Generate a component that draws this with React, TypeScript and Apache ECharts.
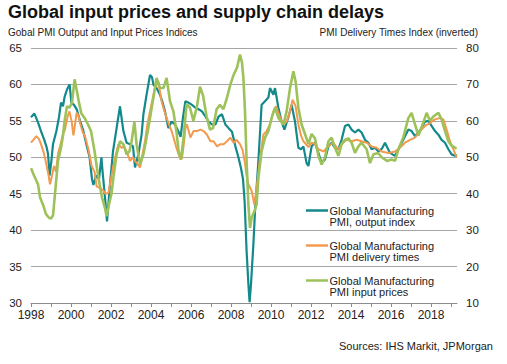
import React, { useEffect, useRef } from "react";
import * as echarts from "echarts";

// Global Manufacturing PMI, output index (left axis) [year, value]
const outputIndex: [number, number][] = [
  [1998.0, 55.5], [1998.17, 56.0], [1998.35, 54.8], [1998.5, 53.6], [1998.65, 52.5], [1998.77, 51.5],
  [1998.85, 50.5], [1998.93, 47.5], [1999.02, 49.5], [1999.1, 51.8], [1999.27, 53.6], [1999.4, 55.5],
  [1999.5, 57.5], [1999.6, 57.0], [1999.68, 58.3], [1999.8, 59.3], [1999.93, 60.0], [2000.02, 57.5],
  [2000.15, 57.2], [2000.3, 56.5], [2000.45, 55.0], [2000.6, 53.8], [2000.75, 52.0], [2000.93, 50.0],
  [2001.05, 47.0], [2001.12, 46.2], [2001.25, 47.5], [2001.4, 47.0], [2001.52, 50.0], [2001.58, 48.0],
  [2001.7, 44.5], [2001.8, 41.2], [2001.95, 46.3], [2002.1, 50.8], [2002.28, 54.0], [2002.45, 57.0],
  [2002.62, 53.6], [2002.78, 52.0], [2002.95, 51.8], [2003.1, 51.5], [2003.2, 48.6], [2003.37, 50.4],
  [2003.53, 53.1], [2003.62, 55.9], [2003.78, 58.6], [2003.95, 61.3], [2004.05, 61.0], [2004.12, 60.0],
  [2004.28, 59.5], [2004.45, 58.6], [2004.58, 57.5], [2004.7, 56.3], [2004.87, 54.0], [2005.03, 54.9],
  [2005.2, 54.5], [2005.38, 53.5], [2005.48, 52.8], [2005.6, 55.5], [2005.72, 57.7], [2005.88, 57.5],
  [2006.05, 57.2], [2006.22, 56.8], [2006.38, 56.6], [2006.55, 56.3], [2006.72, 55.6], [2006.88, 54.9],
  [2007.05, 54.5], [2007.22, 54.5], [2007.38, 55.6], [2007.55, 55.9], [2007.72, 54.5], [2007.88, 54.0],
  [2008.05, 53.5], [2008.22, 51.5], [2008.38, 49.9], [2008.5, 48.5], [2008.6, 47.0], [2008.68, 44.0],
  [2008.78, 37.1], [2008.87, 32.6], [2008.93, 30.1], [2009.0, 32.6], [2009.12, 38.1], [2009.2, 42.6],
  [2009.37, 49.5], [2009.53, 57.2], [2009.7, 57.7], [2009.87, 58.2], [2009.95, 59.5], [2010.12, 58.6],
  [2010.2, 59.5], [2010.37, 56.8], [2010.53, 54.9], [2010.67, 53.8], [2010.87, 55.5], [2011.03, 57.2],
  [2011.2, 54.9], [2011.37, 51.3], [2011.5, 51.1], [2011.62, 51.5], [2011.78, 49.2], [2011.87, 48.8],
  [2012.03, 51.5], [2012.2, 52.0], [2012.37, 50.6], [2012.53, 49.2], [2012.7, 49.7], [2012.87, 51.5],
  [2013.03, 52.0], [2013.2, 51.3], [2013.37, 51.1], [2013.53, 52.4], [2013.7, 54.3], [2013.87, 54.5],
  [2014.03, 53.8], [2014.2, 53.4], [2014.37, 53.8], [2014.53, 53.4], [2014.7, 52.4], [2014.87, 52.0],
  [2015.03, 51.1], [2015.2, 51.3], [2015.37, 50.8], [2015.55, 51.2], [2015.7, 52.0], [2015.95, 50.6],
  [2016.2, 50.2], [2016.45, 51.5], [2016.7, 52.9], [2016.87, 53.8], [2017.03, 53.6], [2017.2, 52.9],
  [2017.37, 53.4], [2017.53, 54.0], [2017.7, 54.9], [2017.87, 55.0], [2018.03, 54.3], [2018.2, 53.6],
  [2018.37, 53.1], [2018.53, 52.4], [2018.7, 52.0], [2018.87, 51.1], [2019.03, 50.4], [2019.2, 50.2],
  [2019.3, 50.3],
];

// Global Manufacturing PMI delivery times (inverted), left axis [year, value]
const deliveryTimes: [number, number][] = [
  [1998.0, 52.0], [1998.15, 52.5], [1998.27, 52.9], [1998.4, 52.5], [1998.5, 51.8], [1998.65, 50.5],
  [1998.77, 49.0], [1998.88, 47.5], [1998.95, 46.3], [1999.05, 47.5], [1999.15, 48.8], [1999.25, 48.0],
  [1999.35, 50.5], [1999.45, 51.5], [1999.58, 53.0], [1999.7, 53.8], [1999.82, 55.5], [1999.92, 56.3],
  [2000.03, 55.0], [2000.12, 53.0], [2000.2, 54.5], [2000.28, 56.1], [2000.37, 55.8], [2000.45, 54.7],
  [2000.58, 53.5], [2000.7, 52.9], [2000.87, 51.1], [2001.03, 48.8], [2001.18, 48.0], [2001.28, 46.0],
  [2001.43, 45.8], [2001.6, 45.5], [2001.72, 45.0], [2001.87, 45.1], [2001.95, 46.3], [2002.1, 48.6],
  [2002.25, 50.5], [2002.37, 51.8], [2002.53, 51.3], [2002.65, 51.5], [2002.78, 50.8], [2002.95, 49.5],
  [2003.1, 50.0], [2003.2, 49.5], [2003.35, 49.0], [2003.45, 48.6], [2003.58, 50.5], [2003.7, 52.2],
  [2003.82, 54.5], [2003.95, 56.3], [2004.08, 58.0], [2004.2, 59.5], [2004.37, 60.4], [2004.45, 59.0],
  [2004.53, 57.7], [2004.65, 56.5], [2004.78, 55.4], [2004.9, 54.5], [2005.03, 53.6], [2005.15, 52.5],
  [2005.25, 51.5], [2005.38, 50.4], [2005.48, 49.7], [2005.55, 49.9], [2005.65, 52.0], [2005.72, 54.0],
  [2005.8, 54.5], [2005.97, 52.7], [2006.13, 53.6], [2006.3, 53.6], [2006.47, 53.8], [2006.63, 53.6],
  [2006.8, 53.1], [2006.97, 52.2], [2007.13, 52.2], [2007.3, 51.5], [2007.47, 51.8], [2007.63, 51.8],
  [2007.8, 52.2], [2007.97, 52.7], [2008.13, 52.0], [2008.28, 52.4], [2008.45, 51.8], [2008.58, 51.0],
  [2008.68, 49.5], [2008.78, 47.5], [2008.87, 46.3], [2009.03, 45.4], [2009.17, 43.5], [2009.28, 45.8],
  [2009.45, 49.9], [2009.62, 53.1], [2009.78, 53.6], [2009.95, 54.5], [2010.12, 56.3], [2010.25, 57.0],
  [2010.45, 55.5], [2010.62, 54.5], [2010.78, 54.9], [2010.95, 56.3], [2011.08, 57.9], [2011.23, 57.0],
  [2011.37, 54.5], [2011.5, 53.0], [2011.62, 52.2], [2011.87, 51.4], [2012.03, 52.0], [2012.2, 51.8],
  [2012.37, 51.1], [2012.62, 50.8], [2012.87, 51.5], [2013.1, 52.0], [2013.37, 51.1], [2013.53, 51.8],
  [2013.78, 52.4], [2014.03, 52.2], [2014.28, 52.4], [2014.53, 52.2], [2014.78, 52.0], [2015.03, 51.5],
  [2015.28, 51.3], [2015.53, 50.8], [2015.87, 50.6], [2016.2, 50.8], [2016.45, 51.3], [2016.7, 52.0],
  [2016.95, 52.4], [2017.2, 52.7], [2017.45, 53.6], [2017.7, 54.3], [2017.95, 54.7], [2018.2, 55.2],
  [2018.45, 55.4], [2018.62, 55.2], [2018.78, 53.8], [2018.95, 52.2], [2019.12, 51.1], [2019.28, 50.0],
];

// Global Manufacturing PMI input prices, right axis [year, value]
const inputPrices: [number, number][] = [
  [1998.0, 47.0], [1998.15, 45.0], [1998.35, 42.6], [1998.45, 39.0], [1998.6, 37.0], [1998.75, 34.4],
  [1998.9, 33.4], [1999.0, 33.2], [1999.1, 34.0], [1999.2, 40.0], [1999.35, 49.0], [1999.5, 52.6],
  [1999.6, 56.0], [1999.68, 60.0], [1999.8, 64.0], [1999.92, 63.6], [2000.05, 65.0], [2000.18, 71.4],
  [2000.3, 68.0], [2000.4, 65.0], [2000.52, 62.0], [2000.68, 60.8], [2000.85, 59.0], [2001.0, 57.2],
  [2001.18, 51.6], [2001.3, 47.0], [2001.43, 42.6], [2001.55, 39.0], [2001.7, 36.0], [2001.78, 33.8],
  [2001.9, 37.0], [2002.03, 40.2], [2002.12, 44.4], [2002.28, 50.8], [2002.45, 54.4], [2002.62, 53.6],
  [2002.78, 50.8], [2002.92, 51.6], [2003.03, 54.4], [2003.17, 59.8], [2003.28, 53.6], [2003.45, 48.0],
  [2003.62, 50.8], [2003.78, 55.4], [2003.95, 60.8], [2004.12, 66.4], [2004.28, 71.8], [2004.45, 69.0],
  [2004.62, 69.0], [2004.78, 71.8], [2004.95, 65.4], [2005.12, 62.6], [2005.28, 56.8], [2005.38, 51.6],
  [2005.5, 49.4], [2005.62, 55.0], [2005.78, 64.6], [2005.95, 63.6], [2006.12, 60.0], [2006.3, 64.0],
  [2006.45, 69.4], [2006.6, 67.0], [2006.78, 61.2], [2006.95, 57.6], [2007.1, 58.0], [2007.28, 63.2],
  [2007.45, 64.4], [2007.62, 63.2], [2007.78, 66.0], [2007.97, 70.0], [2008.13, 72.6], [2008.3, 74.6],
  [2008.45, 78.2], [2008.55, 76.0], [2008.62, 71.8], [2008.7, 62.6], [2008.78, 49.0], [2008.87, 37.0],
  [2008.95, 30.6], [2009.03, 33.4], [2009.17, 35.2], [2009.28, 37.0], [2009.37, 44.4], [2009.53, 51.6],
  [2009.7, 55.4], [2009.87, 57.2], [2010.03, 60.8], [2010.2, 63.6], [2010.37, 60.8], [2010.62, 59.0],
  [2010.78, 62.6], [2010.95, 69.0], [2011.12, 73.6], [2011.23, 70.8], [2011.37, 63.6], [2011.53, 59.0],
  [2011.7, 56.4], [2011.87, 53.6], [2012.03, 56.4], [2012.2, 55.2], [2012.37, 50.4], [2012.53, 48.0],
  [2012.7, 50.0], [2012.87, 54.4], [2013.03, 55.4], [2013.2, 52.6], [2013.37, 50.4], [2013.53, 53.6],
  [2013.7, 54.8], [2013.87, 55.2], [2014.03, 54.0], [2014.2, 51.2], [2014.37, 53.0], [2014.53, 54.0],
  [2014.78, 52.2], [2014.95, 48.4], [2015.12, 50.8], [2015.37, 51.2], [2015.53, 50.0], [2015.8, 49.0],
  [2016.03, 49.4], [2016.2, 49.0], [2016.37, 52.2], [2016.62, 55.6], [2016.87, 60.8], [2017.03, 62.2],
  [2017.2, 59.0], [2017.37, 56.0], [2017.62, 59.6], [2017.78, 62.2], [2017.95, 60.0], [2018.12, 61.2],
  [2018.37, 62.2], [2018.53, 60.4], [2018.7, 57.2], [2018.87, 54.4], [2019.03, 53.2], [2019.28, 52.4],
];

const yearTicks = [
  1998, 1999, 2000, 2001, 2002, 2003, 2004, 2005, 2006, 2007, 2008,
  2009, 2010, 2011, 2012, 2013, 2014, 2015, 2016, 2017, 2018, 2019,
];
const yearLabels = [1998, 2000, 2002, 2004, 2006, 2008, 2010, 2012, 2014, 2016, 2018];

const seriesNames = [
  ["Global Manufacturing", "PMI, output index"],
  ["Global Manufacturing", "PMI delivery times"],
  ["Global Manufacturing", "PMI input prices"],
];
const seriesColors = ["#13898b", "#f39a4f", "#9dc25a"];
const seriesWidths = [2.2, 2, 2.6];

const titleText = "Global input prices and supply chain delays";
const leftAxisTitle = "Gobal PMI Output and Input Prices Indices";
const rightAxisTitle = "PMI Delivery Times Index (inverted)";
const sourceText = "Sources: IHS Markit, JPMorgan";

const FONT = "'Liberation Sans', Arial, Helvetica, sans-serif";

export default function App() {
  const ref = useRef<HTMLDivElement>(null);

  useEffect(() => {
    if (!ref.current) return;
    const chart = echarts.init(ref.current, undefined, { renderer: "svg" });

    const legendGraphics: any[] = [];
    const legendY = [210.5, 245.5, 280.5];
    seriesNames.forEach((lines, i) => {
      legendGraphics.push({
        type: "line",
        shape: { x1: 306, y1: legendY[i], x2: 328, y2: legendY[i] },
        style: { stroke: seriesColors[i], lineWidth: 2.5 },
      });
      legendGraphics.push({
        type: "text",
        x: 329.5,
        y: legendY[i],
        style: {
          text: lines[0],
          font: `11px ${FONT}`,
          fill: "#222",
          verticalAlign: "middle",
          align: "left",
        },
      });
      legendGraphics.push({
        type: "text",
        x: 329.5,
        y: legendY[i] + 11.5,
        style: {
          text: lines[1],
          font: `11px ${FONT}`,
          fill: "#222",
          verticalAlign: "middle",
          align: "left",
        },
      });
    });

    const seriesData = [outputIndex, deliveryTimes, inputPrices];
    const axisIndex = [0, 0, 1];

    const option: any = {
      animation: false,
      backgroundColor: "#ffffff",
      grid: { left: 31, right: 50, top: 48, bottom: 61, containLabel: false },
      xAxis: {
        type: "value",
        min: 1998,
        max: 2019.3,
        interval: 1,
        splitLine: { show: false },
        axisLine: { show: true, lineStyle: { color: "#8c8c8c", width: 1 } },
        axisTick: {
          show: true,
          inside: false,
          length: 4,
          customValues: yearTicks,
          lineStyle: { color: "#8c8c8c" },
        },
        axisLabel: {
          customValues: yearLabels,
          formatter: (v: number) => String(Math.round(v)),
          color: "#222",
          fontFamily: FONT,
          fontSize: 12,
          margin: 6,
        },
      },
      yAxis: [
        {
          type: "value",
          min: 30,
          max: 65,
          interval: 5,
          position: "left",
          axisLine: { show: false },
          axisTick: { show: false },
          splitLine: { show: true, lineStyle: { color: "#a6a6a6", width: 1 } },
          axisLabel: { color: "#222", fontFamily: FONT, fontSize: 11.5, margin: 9 },
        },
        {
          type: "value",
          min: 10,
          max: 80,
          interval: 10,
          position: "right",
          axisLine: { show: false },
          axisTick: { show: false },
          splitLine: { show: false },
          axisLabel: { color: "#222", fontFamily: FONT, fontSize: 11.5, margin: 9 },
        },
      ],
      series: seriesNames.map((lines, i) => ({
        name: lines.join(" "),
        type: "line",
        yAxisIndex: axisIndex[i],
        data: seriesData[i],
        showSymbol: false,
        lineStyle: { color: seriesColors[i], width: seriesWidths[i] },
        itemStyle: { color: seriesColors[i] },
        z: 2 + i,
      })),
      graphic: [
        {
          type: "text",
          x: 8,
          y: 11.5,
          style: {
            text: titleText,
            font: `bold 18px ${FONT}`,
            fill: "#111",
            verticalAlign: "middle",
            align: "left",
          },
        },
        {
          type: "text",
          x: 8,
          y: 32.5,
          style: {
            text: leftAxisTitle,
            font: `10px ${FONT}`,
            fill: "#222",
            verticalAlign: "middle",
            align: "left",
          },
        },
        {
          type: "text",
          x: 478,
          y: 32.5,
          style: {
            text: rightAxisTitle,
            font: `10px ${FONT}`,
            fill: "#222",
            verticalAlign: "middle",
            align: "right",
          },
        },
        {
          type: "text",
          x: 493,
          y: 346,
          style: {
            text: sourceText,
            font: `11px ${FONT}`,
            fill: "#222",
            verticalAlign: "middle",
            align: "right",
          },
        },
        ...legendGraphics,
      ],
    };

    chart.setOption(option);
    return () => {
      chart.dispose();
    };
  }, []);

  return (
    <div
      ref={ref}
      style={{ position: "fixed", left: 0, top: 0, width: 507, height: 364, background: "#fff" }}
    />
  );
}
